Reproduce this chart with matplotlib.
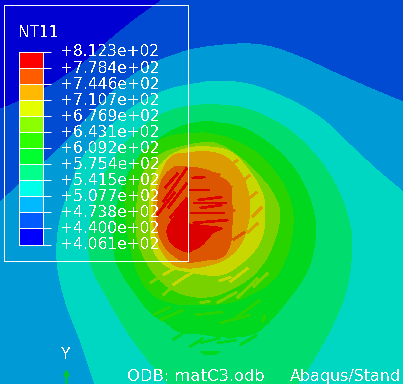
import numpy as np
import matplotlib
matplotlib.use("Agg")
import matplotlib.pyplot as plt
from matplotlib.colors import ListedColormap
from matplotlib.transforms import ScaledTranslation

LEVELS = [406.1, 440.0, 473.8, 507.7, 541.5, 575.4, 609.2, 643.1, 676.9, 710.7, 744.6, 778.4, 812.3]
TICK_LABELS = ["+4.061e+02", "+4.400e+02", "+4.738e+02", "+5.077e+02", "+5.415e+02", "+5.754e+02",
               "+6.092e+02", "+6.431e+02", "+6.769e+02", "+7.107e+02", "+7.446e+02", "+7.784e+02", "+8.123e+02"]
LEGEND_COLORS = ["#0000ff", "#005cff", "#00b9ff", "#00ffe8", "#00ff8b", "#00ff2e",
                 "#2eff00", "#8bff00", "#e6ff00", "#ffb900", "#ff5c00", "#ff0000"]
BAND_COLORS = ["#0000d2", "#004bd2", "#009bd7", "#00d7c3", "#00dc6e", "#00d820",
               "#28d400", "#78d200", "#c8d700", "#dc9b00", "#dc5500", "#dc0000"]

# open boundaries (reach the picture's edge)
band_0 = [(0, 108), (30, 95), (60, 78), (85, 60), (110, 38), (135, 18), (160, 0)]
band_2 = [(0, 202), (30, 175), (60, 148), (90, 115), (120, 85), (150, 65), (180, 53), (200, 48), (237, 44),
          (267, 46), (300, 57), (333, 72), (367, 87), (403, 102)]
band_3 = [(95, 384), (80, 340), (65, 300), (57, 260), (60, 220), (72, 183), (83, 157), (107, 130), (133, 107),
          (167, 90), (200, 83), (217, 81), (243, 83), (267, 90), (300, 105), (327, 123), (350, 145), (377, 170),
          (403, 192)]
band_4 = [(168, 384), (133, 340), (107, 297), (90, 260), (92, 213), (107, 170), (133, 135), (167, 112), (200, 105),
          (220, 105), (243, 108), (267, 117), (293, 133), (317, 157), (335, 184), (347, 214), (352, 244), (347, 287),
          (333, 324), (315, 357), (298, 384)]
# closed boundaries
band_5 = [(114, 250), (115, 217), (125, 180), (147, 150), (173, 130), (200, 122), (220, 123), (243, 128), (267, 142),
          (287, 160), (303, 183), (314, 214), (315, 241), (307, 271), (290, 297), (267, 324), (250, 335), (225, 337),
          (200, 334), (180, 332), (165, 322), (150, 312), (133, 290), (120, 270)]
band_6 = [(125, 205), (129, 178), (143, 152), (167, 137), (200, 133), (217, 135), (233, 140), (257, 153), (275, 172),
          (287, 192), (293, 214), (291, 241), (285, 260), (273, 280), (250, 295), (227, 303), (193, 305), (173, 303),
          (155, 296), (140, 278), (130, 245)]
band_7 = [(137, 203), (143, 173), (163, 153), (200, 143), (220, 145), (243, 160), (263, 180), (272, 192), (279, 207),
          (279, 224), (272, 247), (262, 265), (247, 280), (223, 293), (207, 297), (190, 296), (173, 290), (160, 280),
          (147, 263), (137, 237)]
band_8 = [(150, 205), (152, 180), (165, 160), (185, 149), (210, 147), (235, 155), (260, 188), (265, 215), (260, 242),
          (243, 262), (220, 275), (190, 272), (165, 265), (152, 245)]
band_9 = [(153, 212), (157, 185), (170, 158), (187, 153), (210, 152), (227, 158), (240, 172), (247, 188), (250, 208),
          (247, 228), (240, 245), (227, 258), (210, 265), (187, 268), (170, 262), (157, 240)]
band_10 = [(157, 222), (160, 185), (173, 168), (187, 167), (207, 170), (220, 177), (230, 185), (232, 205), (232, 225),
           (230, 245), (222, 257), (207, 260), (187, 262), (173, 255), (162, 242)]
band_11 = [(167, 233), (170, 223), (178, 212), (187, 200), (188, 222), (200, 225), (222, 228), (213, 233), (202, 245),
           (193, 250), (187, 252), (173, 245)]

streaks_11 = [(157, 215, 175, 192), (163, 202, 187, 168), (168, 208, 187, 183), (165, 188, 178, 173),
              (170, 218, 187, 198), (188, 190, 210, 190), (193, 203, 227, 203), (190, 213, 225, 213),
              (200, 208, 222, 205), (193, 223, 228, 220), (198, 200, 222, 197), (192, 178, 205, 177)]
streaks_10 = [(193, 168, 220, 175), (217, 185, 232, 187), (222, 215, 235, 210), (233, 240, 245, 232)]
streaks_9 = [(240, 183, 250, 175), (247, 200, 257, 192), (252, 217, 262, 207), (247, 233, 258, 223),
             (230, 165, 238, 160)]
streaks_8 = [(163, 275, 177, 267), (183, 278, 197, 270), (230, 282, 248, 268), (173, 285, 183, 278),
             (219, 281, 231, 277)]
streaks_7 = [(150, 283, 163, 275), (163, 295, 183, 278), (190, 294, 202, 294), (217, 303, 237, 292),
             (237, 298, 258, 278), (200, 303, 210, 301), (253, 287, 268, 273)]
streaks_6 = [(153, 315, 170, 307), (160, 320, 183, 310), (195, 315, 223, 312), (237, 317, 260, 300),
             (220, 323, 250, 315), (262, 322, 265, 315)]
streaks_5 = [(190, 347, 203, 338), (200, 343, 220, 338), (217, 343, 237, 340), (240, 345, 257, 335),
             (173, 340, 190, 328), (227, 338, 250, 333), (200, 352, 220, 352), (203, 354, 217, 354)]

OPEN_BANDS = [(0, band_0, [(0, 0)]), (2, band_2, [(403, 384), (0, 384)]), (3, band_3, [(403, 384)]), (4, band_4, [])]
CLOSED_BANDS = [(5, band_5), (6, band_6), (7, band_7), (8, band_8), (9, band_9), (10, band_10), (11, band_11)]
STREAKS = {11: streaks_11, 10: streaks_10, 9: streaks_9, 8: streaks_8, 7: streaks_7, 6: streaks_6, 5: streaks_5}


def smooth(points, closed):
    """Draw the read boundary as a Catmull-Rom curve through its points."""
    p = np.array(points, float)
    if closed:
        q = np.vstack([p[-1], p, p[0], p[1]])
    else:
        q = np.vstack([p[0], p, p[-1]])
    out = []
    t = np.linspace(0, 1, 10, endpoint=False)[:, None]
    for i in range(1, len(q) - 2):
        a, b, c, d = q[i - 1], q[i], q[i + 1], q[i + 2]
        out.append(0.5 * (2 * b + (c - a) * t + (2 * a - 5 * b + 4 * c - d) * t ** 2 + (3 * b - a - 3 * c + d) * t ** 3))
    out.append(q[-2][None, :])
    return np.vstack(out)


FS = 11.2
fig = plt.figure(figsize=(4.03, 3.84), dpi=100)
ax = fig.add_axes([0, 0, 1, 1])
ax.set_xlim(0, 403)
ax.set_ylim(384, 0)
ax.axis("off")
ax.add_patch(plt.Rectangle((0, 0), 403, 384, fc=BAND_COLORS[1], ec="none", antialiased=False))

for idx, poly, corners in OPEN_BANDS:
    pts = smooth(poly, False)
    if corners:
        pts = np.vstack([pts, np.array(corners, float)])
    ax.fill(pts[:, 0], pts[:, 1], color=BAND_COLORS[idx], lw=0, antialiased=False, zorder=idx + 1)
for idx, poly in CLOSED_BANDS:
    pts = smooth(poly, True)
    ax.fill(pts[:, 0], pts[:, 1], color=BAND_COLORS[idx], lw=0, antialiased=False, zorder=idx + 1)
for idx, segs in STREAKS.items():
    for x0, y0, x1, y1 in segs:
        ax.plot([x0, x1], [y0, y1], color=BAND_COLORS[idx], lw=1.2, antialiased=False, zorder=idx + 1.5,
                solid_capstyle="butt")

ax.add_patch(plt.Rectangle((3.5, 4.5), 184, 256, fc="none", ec="white", lw=0.72, antialiased=False, zorder=20))
ax.text(19, 37, "NT11", color="white", fontsize=FS, ha="left", va="baseline", antialiased=False, zorder=21)

# green Y axis triad
ax.annotate("", xy=(66.5, 369), xytext=(66.5, 384),
            arrowprops=dict(arrowstyle="-|>", color="#00c832", lw=1.5, mutation_scale=8, shrinkA=0, shrinkB=0), zorder=21)
ax.text(65.5, 359, "Y", color="white", fontsize=FS, ha="center", va="baseline", antialiased=False, zorder=21)
ax.text(127, 381, "ODB: matC3.odb", color="white", fontsize=11.8, ha="left", va="baseline", antialiased=False, zorder=21)
ax.text(290, 381, "Abaqus/Stand", color="white", fontsize=11.4, ha="left", va="baseline", antialiased=False, zorder=21)

# legend bar on its own axes
W, H = 403.0, 384.0
cax = fig.add_axes([19 / W, 1 - 244.5 / H, 24 / W, 192.5 / H], zorder=5)
cax.patch.set_alpha(0)
cmap = ListedColormap(LEGEND_COLORS)
y = np.arange(len(LEVELS))
cax.pcolormesh([0, 1], y, np.arange(len(LEVELS) - 1)[:, None], cmap=cmap, edgecolors="white", linewidth=0.72,
               antialiased=False)
cax.set_xlim(0, 1)
cax.set_ylim(0, len(LEVELS) - 1)
cax.set_xticks([])
cax.yaxis.tick_right()
cax.set_yticks(y)
cax.set_yticklabels(TICK_LABELS, fontsize=FS, color="white", fontdict={"antialiased": False})
cax.tick_params(axis="y", colors="white", length=5.7, width=0.72, pad=6.5)
shift = ScaledTranslation(0, 1.5 / 100, fig.dpi_scale_trans)
for lab in cax.get_yticklabels():
    lab.set_transform(lab.get_transform() + shift)
for s in cax.spines.values():
    s.set_color("white")
    s.set_linewidth(0.72)

fig.savefig("out.png", dpi=100)
